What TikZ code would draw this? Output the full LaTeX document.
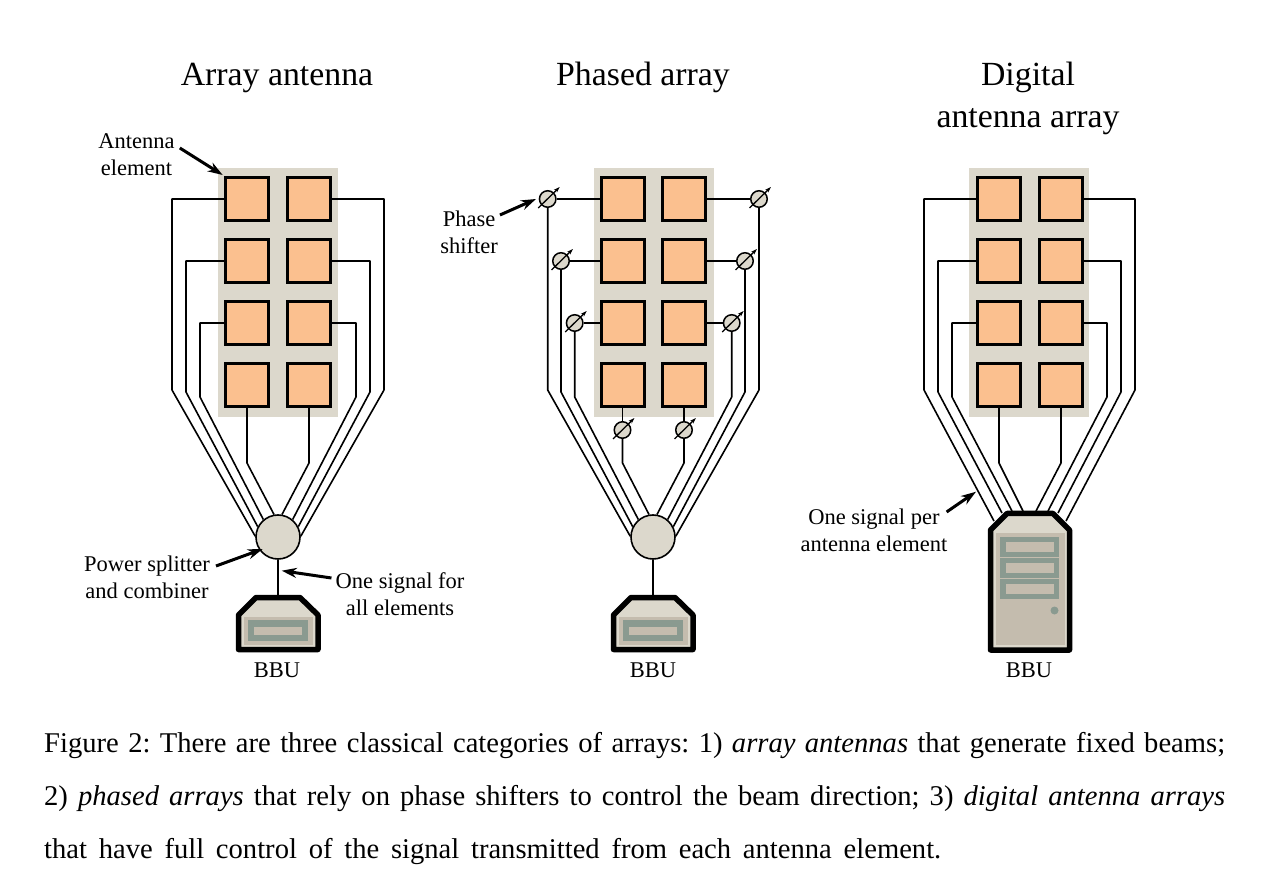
\documentclass[tikz,border=0pt]{standalone}
\usepackage{fontspec}
\setmainfont{Liberation Serif}
\usetikzlibrary{arrows.meta}
\frenchspacing
\definecolor{panelgray}{HTML}{DCD8CC}
\definecolor{patchorange}{HTML}{FBC08F}
\definecolor{slottan}{HTML}{C4BCAE}
\definecolor{slotgreen}{HTML}{8A9A90}
\tikzset{
  panel/.style={fill=panelgray,minimum width=120pt,minimum height=249pt,inner sep=0pt},
  element/.style={draw,fill=patchorange,line width=3pt,minimum size=43pt,inner sep=0pt},
  wire/.style={line width=1.6pt,line join=round},
  splitter/.style={circle,draw,fill=panelgray,line width=1.6pt,minimum size=44pt,inner sep=0pt},
  shifter/.style={circle,draw,fill=panelgray,line width=1.5pt,minimum size=16.5pt,inner sep=0pt},
  slash/.style={line width=1.3pt,-{Stealth[length=6pt,width=4pt]}},
  callout/.style={line width=3pt,-{Stealth[length=15pt,width=10pt]}},
  bbubody/.style={draw,fill=panelgray,line width=5.5pt,line join=round},
  title/.style={font=\fontsize{33.8}{42}\selectfont,align=center,inner sep=0pt},
  small/.style={font=\fontsize{22.5}{27}\selectfont,align=center,inner sep=0pt},
  caption/.style={font=\fontsize{28.6}{34}\selectfont,anchor=base west,inner sep=0pt}
}
\begin{document}
\begin{tikzpicture}[x=1pt,y=-1pt]
\useasboundingbox (0,0) rectangle (1278,890);
\node[title] (titleA) at (277,77.5) {Array antenna};
\node[title] (titleB) at (643,77.5) {Phased array};
\node[title] (titleC) at (1028,98.5) {Digital\\antenna array};
\node[panel] (bgA) at (278,292.5) {};
\node[panel] (bgB) at (653.5,292.5) {};
\node[panel] (bgC) at (1029.3,292.5) {};
\node[element] (a11) at (247,199) {}; \node[element] (a12) at (309,199) {};
\node[element] (a21) at (247,261) {}; \node[element] (a22) at (309,261) {};
\node[element] (a31) at (247,323) {}; \node[element] (a32) at (309,323) {};
\node[element] (a41) at (247,385) {}; \node[element] (a42) at (309,385) {};
\node[element] (b11) at (622.5,199) {}; \node[element] (b12) at (684,199) {};
\node[element] (b21) at (622.5,261) {}; \node[element] (b22) at (684,261) {};
\node[element] (b31) at (622.5,323) {}; \node[element] (b32) at (684,323) {};
\node[element] (b41) at (622.5,385) {}; \node[element] (b42) at (684,385) {};
\node[element] (c11) at (999,199) {}; \node[element] (c12) at (1061,199) {};
\node[element] (c21) at (999,261) {}; \node[element] (c22) at (1061,261) {};
\node[element] (c31) at (999,323) {}; \node[element] (c32) at (1061,323) {};
\node[element] (c41) at (999,385) {}; \node[element] (c42) at (1061,385) {};
\node[splitter] (splitA) at (278,537) {};
\node[splitter] (splitB) at (653,537) {};
\draw[wire] (a11.west) -- (172,199) -- (172,390) -- (splitA.178);
\draw[wire] (a21.west) -- (186,261) -- (186,392) -- (splitA.153);
\draw[wire] (a31.west) -- (200,323) -- (200,397) -- (splitA.130);
\draw[wire] (a41.south) -- (247,463) -- (splitA.100);
\draw[wire] (a12.east) -- (384,199) -- (384,390) -- (splitA.2);
\draw[wire] (a22.east) -- (370,261) -- (370,392) -- (splitA.27);
\draw[wire] (a32.east) -- (356,323) -- (356,397) -- (splitA.50);
\draw[wire] (a42.south) -- (309,463) -- (splitA.80);
\node[shifter] (psB11) at (547.7,199) {}; \node[shifter] (psB12) at (759,199) {};
\node[shifter] (psB21) at (561,261) {}; \node[shifter] (psB22) at (745,261) {};
\node[shifter] (psB31) at (574.7,323) {}; \node[shifter] (psB32) at (731.7,323) {};
\node[shifter] (psB41) at (622.5,430) {}; \node[shifter] (psB42) at (684,430) {};
\draw[wire] (b11.west) -- (psB11.east);
\draw[wire] (b21.west) -- (psB21.east);
\draw[wire] (b31.west) -- (psB31.east);
\draw[wire] (b41.south) -- (psB41.north);
\draw[wire] (b12.east) -- (psB12.west);
\draw[wire] (b22.east) -- (psB22.west);
\draw[wire] (b32.east) -- (psB32.west);
\draw[wire] (b42.south) -- (psB42.north);
\draw[wire] (psB11.south) -- (547.7,390) -- (splitB.178);
\draw[wire] (psB21.south) -- (561,392) -- (splitB.153);
\draw[wire] (psB31.south) -- (574.7,397) -- (splitB.130);
\draw[wire] (psB41.south) -- (622.5,463) -- (splitB.100);
\draw[wire] (psB12.south) -- (759,390) -- (splitB.2);
\draw[wire] (psB22.south) -- (745,392) -- (splitB.27);
\draw[wire] (psB32.south) -- (731.7,397) -- (splitB.50);
\draw[wire] (psB42.south) -- (684,463) -- (splitB.80);
\foreach \ps in {psB11,psB12,psB21,psB22,psB31,psB32,psB41,psB42}
  \draw[slash] ([shift={(-9.5,9)}]\ps.center) -- ([shift={(12,-12)}]\ps.center);
\coordinate (towerL1) at (994,521);
\coordinate (towerL2) at (1002,513);
\coordinate (towerL3) at (1012,511);
\coordinate (towerL4) at (1023,511);
\coordinate (towerR1) at (1066,521);
\coordinate (towerR2) at (1058,513);
\coordinate (towerR3) at (1048,511);
\coordinate (towerR4) at (1036,511);
\draw[wire] (c11.west) -- (924,199) -- (924,390) -- (towerL1);
\draw[wire] (c21.west) -- (938,261) -- (938,392) -- (towerL2);
\draw[wire] (c31.west) -- (952,323) -- (952,397) -- (towerL3);
\draw[wire] (c41.south) -- (999,463) -- (towerL4);
\draw[wire] (c12.east) -- (1135,199) -- (1135,390) -- (towerR1);
\draw[wire] (c22.east) -- (1121,261) -- (1121,392) -- (towerR2);
\draw[wire] (c32.east) -- (1107,323) -- (1107,397) -- (towerR3);
\draw[wire] (c42.south) -- (1061,463) -- (towerR4);
\coordinate (bbuA) at (278,598);
\coordinate (bbuB) at (653,598);
\draw[line width=2.5pt] (splitA.south) -- (bbuA);
\draw[line width=2.5pt] (splitB.south) -- (bbuB);
\begin{scope}
\draw[bbubody] (238.5,615) -- (256,597.5) -- (300,597.5) -- (318,615) -- (318,649.5) -- (238.5,649.5) -- cycle;
\fill[slottan] (243.5,617) rectangle (313,645);
\fill[slotgreen] (248,620) rectangle (308,641);
\fill[slottan] (254,627) rectangle (302,635);
\end{scope}
\begin{scope}[xshift=375pt]
\draw[bbubody] (238.5,615) -- (256,597.5) -- (300,597.5) -- (318,615) -- (318,649.5) -- (238.5,649.5) -- cycle;
\fill[slottan] (243.5,617) rectangle (313,645);
\fill[slotgreen] (248,620) rectangle (308,641);
\fill[slottan] (254,627) rectangle (302,635);
\end{scope}
\draw[bbubody] (990.5,530) -- (1007,513.5) -- (1053,513.5) -- (1069.5,530) -- (1069.5,650) -- (990.5,650) -- cycle;
\fill[slottan] (995.5,533) rectangle (1064.5,645);
\fill[slotgreen] (1000,537) rectangle (1059,599);
\fill[slottan] (1005.5,542) rectangle (1054,552);
\fill[slottan] (1005.5,563) rectangle (1054,573);
\fill[slottan] (1005.5,584) rectangle (1054,594);
\draw[slottan,line width=0.5pt] (1000,557.5) -- (1059,557.5) (1000,578.5) -- (1059,578.5);
\fill[slotgreen] (1054.5,610.5) circle (4);
\node[small] (bbuLabelA) at (277,670) {BBU};
\node[small] (bbuLabelB) at (653,670) {BBU};
\node[small] (bbuLabelC) at (1029,670) {BBU};
\node[small] (antLabel) at (136.5,155) {Antenna\\element};
\node[small] (splitLabel) at (147,577) {Power splitter\\and combiner};
\node[small] (oneLabel) at (400,594) {One signal for\\all elements};
\node[small] (phaseLabel) at (469,232) {Phase\\shifter};
\node[small] (perLabel) at (874,530) {One signal per\\antenna element};
\coordinate (antTip) at (222.7,175);
\coordinate (splitTip) at (262.7,549);
\coordinate (oneTip) at (281.7,570.7);
\coordinate (phaseTip) at (536,199);
\coordinate (perTip) at (976,491.7);
\draw[callout] ([shift={(5,-7)}]antLabel.east) -- (antTip);
\draw[callout] ([shift={(6,-11)}]splitLabel.east) -- (splitTip);
\draw[callout] ([shift={(-4,-16)}]oneLabel.west) -- (oneTip);
\draw[callout] ([shift={(2,-17)}]phaseLabel.east) -- (phaseTip);
\draw[callout] ([shift={(-1,-18)}]perLabel.east) -- (perTip);
\node[caption] (capA) at (44,752) {\makebox[1181pt][s]{Figure 2: There are three classical categories of arrays: 1) \textit{array antennas} that generate fixed beams;}};
\node[caption] (capB) at (44,805) {\makebox[1181pt][s]{2) \textit{phased arrays} that rely on phase shifters to control the beam direction; 3) \textit{digital antenna arrays}}};
\node[caption] (capC) at (44,858) {\makebox[897pt][s]{that have full control of the signal transmitted from each antenna element.}};
\end{tikzpicture}
\end{document}
